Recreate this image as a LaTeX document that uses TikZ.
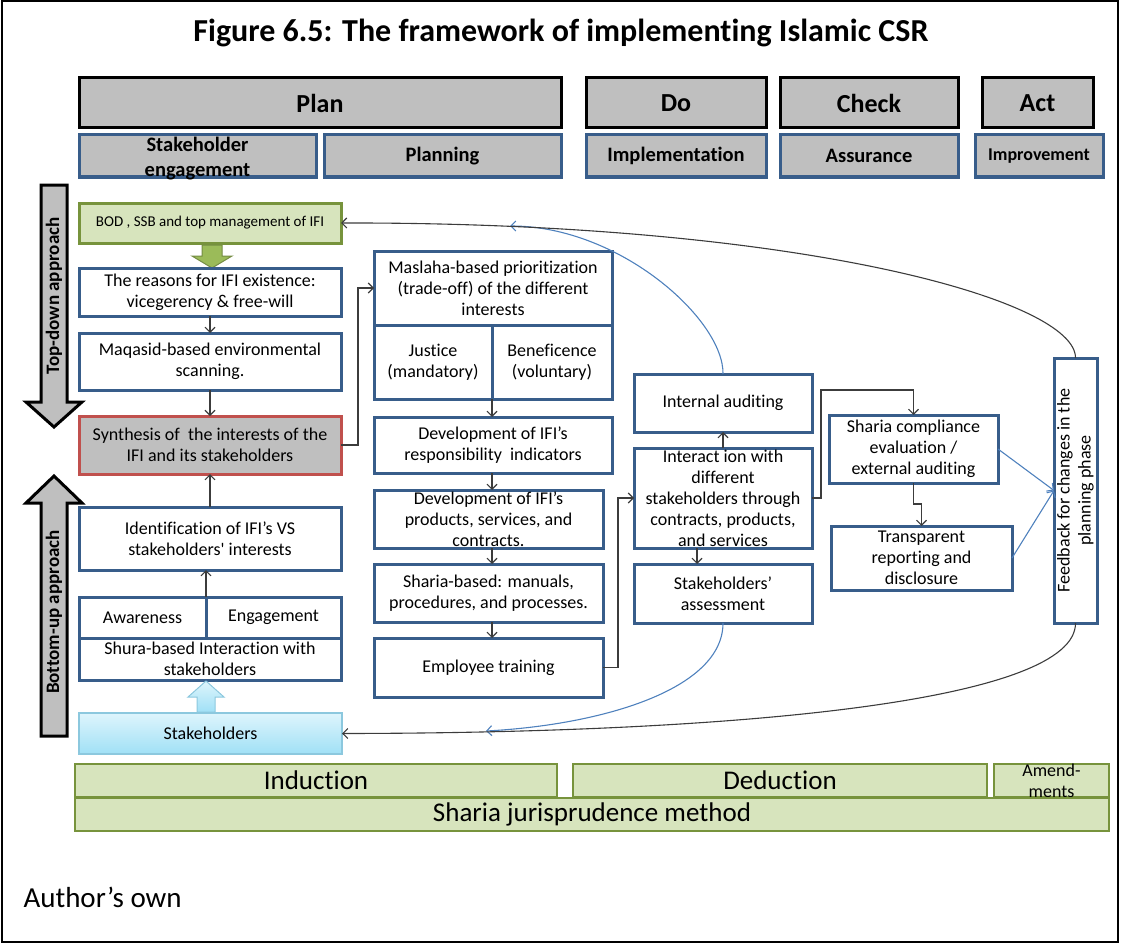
\documentclass[tikz,border=0pt]{standalone}
\usepackage{fontspec}
\setmainfont{Carlito}[Ligatures={TeX,NoCommon}]
\usetikzlibrary{arrows.meta}
\definecolor{bblue}{RGB}{56,93,138}
\definecolor{hgray}{RGB}{191,191,191}
\definecolor{gfill}{RGB}{215,228,189}
\definecolor{gline}{RGB}{119,147,60}
\definecolor{rline}{RGB}{192,80,77}
\definecolor{lline}{RGB}{79,129,189}
\definecolor{conncol}{RGB}{60,60,60}
\definecolor{garrow}{RGB}{155,187,89}
\definecolor{sbtop}{RGB}{222,245,252}
\definecolor{sbbot}{RGB}{160,224,246}
\definecolor{sbline}{RGB}{140,200,222}
\newcommand\bx[8]{%
  \node[#6,minimum width={#4-#2},minimum height={#5-#3},inner sep=0pt,outer sep=0pt] (#1) at ({(#2+#4)/2},{(#3+#5)/2}) {};
  \node[lbl,#7] (#1-t) at (#1.center) {#8};}
\begin{document}
\begin{tikzpicture}[x=1pt,y=-1pt,
  lbl/.style={align=center,inner sep=0pt,outer sep=0pt},
  fhdr/.style={font=\fontsize{26}{30}\selectfont\bfseries},
  fsub/.style={font=\fontsize{20.5}{25}\selectfont\bfseries},
  fsubd/.style={font=\fontsize{20.5}{25}\selectfont\bfseries,yshift=-3pt},
  fsubs/.style={font=\fontsize{18}{22}\selectfont\bfseries},
  ftxt/.style={font=\fontsize{18}{21}\selectfont},
  frot/.style={font=\fontsize{18}{21}\selectfont,rotate=90},
  fbod/.style={font=\fontsize{15}{18}\selectfont},
  fbar/.style={font=\fontsize{27}{30}\selectfont},
  famend/.style={font=\fontsize{18}{21}\selectfont},
  fside/.style={font=\fontsize{19}{22}\selectfont\bfseries,rotate=90},
  hdr/.style={draw=black,line width=3pt,fill=hgray},
  sub/.style={draw=bblue,line width=3pt,fill=hgray},
  bb/.style={draw=bblue,line width=3pt,fill=white},
  gbox/.style={draw=gline,line width=3pt,fill=gfill},
  sbox/.style={draw=rline,line width=3pt,fill=hgray},
  stbox/.style={draw=sbline,line width=1.5pt,top color=sbtop,bottom color=sbbot},
  gbar/.style={draw=gline,line width=2.2pt,fill=gfill},
  bigarrow/.style={draw=black,line width=3pt,fill=hgray,line join=miter},
  conn/.style={draw=conncol,line width=1.1pt,-{Straight Barb[length=5pt,width=10pt]}},
  bconn/.style={draw=lline,line width=1.1pt,-{Straight Barb[length=5pt,width=10pt]}}]
\useasboundingbox (0,0) rectangle (1123,944);
\draw[line width=2pt] (2,1.5) rectangle (1118,942);
\node[font=\fontsize{32}{36}\selectfont\bfseries] (title) at (561,33) {Figure 6.5: The framework of implementing Islamic CSR};
% header row 1
\bx{plan}{79}{78}{561}{128}{hdr}{fhdr}{Plan}
\bx{do}{586}{78}{766}{128}{hdr}{fhdr}{Do}
\bx{check}{780}{78}{958}{128}{hdr}{fhdr}{Check}
\bx{act}{982}{78}{1093}{128}{hdr}{fhdr}{Act}
% header row 2
\bx{stk}{79}{135}{316}{177}{sub}{fsubd}{Stakeholder\\engagement}
\bx{planning}{324}{135}{561}{177}{sub}{fsub}{Planning}
\bx{impl}{586}{135}{766}{177}{sub}{fsub}{Implementation}
\bx{assur}{780}{135}{958}{177}{sub}{fsub}{Assurance}
\bx{improv}{975}{135}{1103}{177}{sub}{fsubs}{Improvement}
% big arrows
\draw[bigarrow] (41,185) -- (67,185) -- (67,402) -- (82,402) -- (54,427) -- (26,402) -- (41,402) -- cycle;
\node[fside] (tdlabel) at (54,296) {Top-down approach};
\draw[bigarrow] (54,476) -- (82,503) -- (67,503) -- (67,736) -- (41,736) -- (41,503) -- (26,503) -- cycle;
\node[fside] (bulabel) at (54,612) {Bottom-up approach};
% left column
\bx{bod}{79}{203}{341}{243}{gbox}{fbod}{BOD , SSB and top management of IFI}
\draw[fill=garrow,draw=garrow!75!black,line width=1pt] (202,245) -- (222,245) -- (222,256) -- (232,256) -- (212,268) -- (192,256) -- (202,256) -- cycle;
\bx{reasons}{79}{268}{341}{316}{bb}{ftxt}{The reasons for IFI existence:\\vicegerency \& free-will}
\bx{maqasid}{79}{333}{341}{390}{bb}{ftxt}{Maqasid-based environmental\\scanning.}
\bx{synth}{79}{416}{341}{474}{sbox}{ftxt}{Synthesis of \ the interests of the\\IFI and its stakeholders}
\bx{ident}{79}{507}{341}{570}{bb}{ftxt}{Identification of IFI’s VS\\stakeholders\textquotesingle{} interests}
\bx{aware}{79}{597}{206}{638}{bb}{ftxt}{Awareness}
\bx{engage}{206}{597}{341}{638}{bb}{ftxt}{Engagement}
\bx{shura}{79}{638}{341}{680}{bb}{ftxt}{Shura-based Interaction with\\stakeholders}
\draw[top color=sbtop,bottom color=sbbot,draw=sbline,line width=1pt] (206,681) -- (224,697) -- (215,697) -- (215,712) -- (197,712) -- (197,697) -- (188,697) -- cycle;
\bx{stakeh}{79}{713}{342}{754}{stbox}{ftxt}{Stakeholders}
% middle column
\bx{masl}{374}{251}{612}{325}{bb}{ftxt}{Maslaha-based prioritization\\(trade-off) of the different\\interests}
\bx{just}{374}{325}{492}{399}{bb}{ftxt}{Justice\\(mandatory)}
\bx{benef}{492}{325}{612}{399}{bb}{ftxt}{Beneficence\\(voluntary)}
\bx{devresp}{374}{417}{612}{473}{bb}{ftxt}{Development of IFI’s\\responsibility \ indicators}
\bx{devprod}{374}{490}{603}{548}{bb}{ftxt}{Development of IFI’s\\products, services, and\\contracts.}
\bx{manuals}{374}{564}{603}{622}{bb}{ftxt}{Sharia-based: manuals,\\procedures, and processes.}
\bx{train}{374}{638}{603}{697}{bb}{ftxt}{Employee training}
% right part
\bx{internal}{634}{374}{812}{432}{bb}{ftxt}{Internal auditing}
\bx{interact}{634}{448}{812}{548}{bb}{ftxt}{Interact ion with\\different\\stakeholders through\\contracts, products,\\and services}
\bx{assess}{634}{564}{812}{623}{bb}{ftxt}{Stakeholders’\\assessment}
\bx{comp}{829}{415}{998}{483}{bb}{ftxt}{Sharia compliance\\evaluation /\\external auditing}
\bx{transp}{831}{526}{1012}{590}{bb}{ftxt}{Transparent\\reporting and\\disclosure}
\bx{fb}{1054}{358}{1097}{623}{bb}{frot}{Feedback for changes in the\\planning phase}
% bottom bars
\bx{induc}{75}{764}{557}{797}{gbar}{fbar}{Induction}
\bx{deduc}{573}{764}{987}{797}{gbar}{fbar}{Deduction}
\bx{amend}{994}{764}{1109}{797}{gbar}{famend}{Amend-\\ments}
\bx{sharia}{75}{798}{1109}{831}{gbar}{fbar}{Sharia jurisprudence method}
\node[anchor=west,font=\fontsize{29}{34}\selectfont] (author) at (20,897) {Author’s own};
% connectors
\draw[conn] (reasons.south) -- (maqasid.north);
\draw[conn] (maqasid.south) -- (synth.north);
\draw[conn] (ident.north) -- (synth.south);
\draw[conn] (aware.north east) -- (aware.north east |- ident.south);
\draw[conn] (just.south east) -- (just.south east |- devresp.north);
\draw[conn] (devresp.south -| just.east) -- (devprod.north -| just.east);
\draw[conn] (devprod.south -| just.east) -- (manuals.north -| just.east);
\draw[conn] (manuals.south -| just.east) -- (train.north -| just.east);
\draw[conn] (synth.east) -- ++(17,0) |- (masl.west);
\draw[conn] (train.east) -- ++(15,0) |- (interact.west);
\draw[conn] (interact.north) -- (internal.south);
\draw[conn] ([xshift=-26pt]interact.south) -- ([xshift=-26pt]assess.north);
\draw[conn] (interact.east) -- ++(9,0) |- ([yshift=25pt]comp.north) -- (comp.north);
\draw[conn] (comp.south) -- ++(0,21) -| (transp.north);
\draw[bconn] (comp.east) -- (fb.west);
\draw[bconn] (transp.east) -- (fb.west);
\coordinate (iaend) at (510,226);
\coordinate (saend) at (486,731);
\draw[bconn] (internal.north) .. controls (724,320) and (620,226) .. (iaend);
\draw[bconn] (assess.south) .. controls (723,690) and (600,725) .. (saend);
\draw[conn] (fb.north) .. controls (1076,300) and (800,222) .. (bod.east);
\draw[conn] (fb.south) .. controls (1076,700) and (750,733) .. (stakeh.east);
\end{tikzpicture}
\end{document}
